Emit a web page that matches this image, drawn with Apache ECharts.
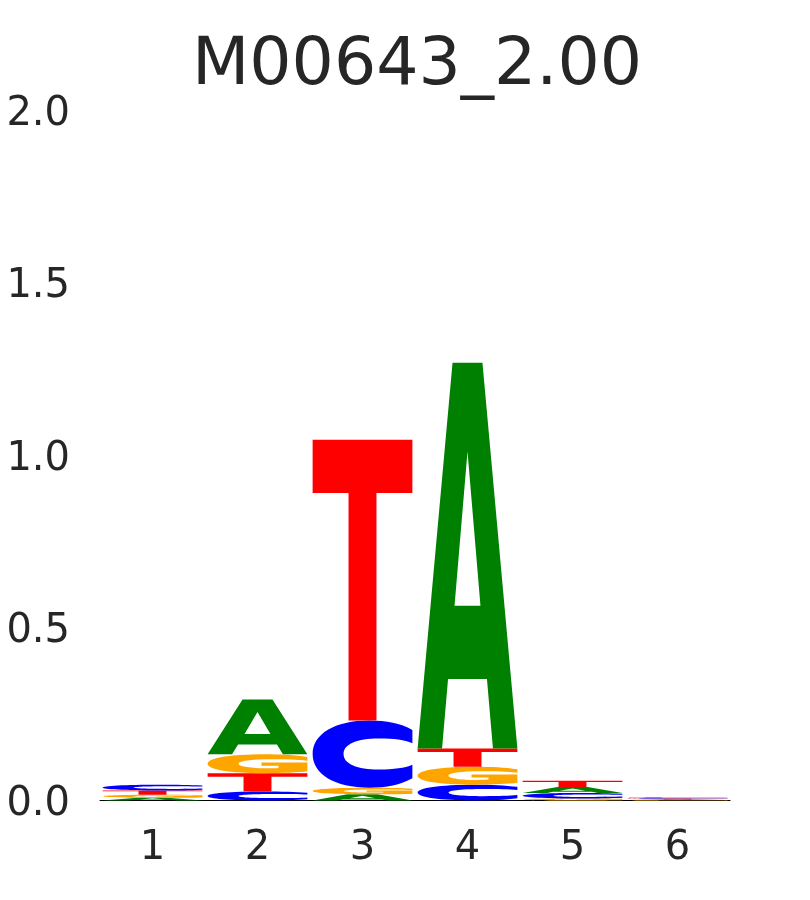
<!DOCTYPE html>
<html>
<head>
<meta charset="utf-8">
<script src="https://cdn.jsdelivr.net/npm/echarts@6/dist/echarts.min.js"></script>
<style>
html,body{margin:0;padding:0;background:#fff;}
#chart{width:810px;height:900px;}
</style>
</head>
<body>
<div id="chart"></div>
<script>
// ---- data ----
const titleText = 'M00643_2.00';
const positions = ['1', '2', '3', '4', '5', '6'];
const letters = ['A', 'C', 'G', 'T'];
const valuesA = [0.008, 0.159, 0.018, 1.118, 0.017, 0.0016];
const valuesC = [0.017, 0.026, 0.195, 0.046, 0.016, 0.003];
const valuesG = [0.009, 0.055, 0.019, 0.052, 0.006, 0.0015];
const valuesT = [0.012, 0.053, 0.814, 0.053, 0.018, 0.0025];
const yTicks = [0, 0.5, 1.0, 1.5, 2.0];

// ---- styling ----
const letterColors = { A: '#008000', C: '#0000ff', G: '#ffa500', T: '#ff0000' };
const glyphs = {
  A: 'M0,100 L35,0 L65,0 L100,100 L75.5,100 L69.5,82 L30.5,82 L24.5,100 Z M37,63 L63,63 L50,23 Z',
  T: 'M0,0 L100,0 L100,19 L64,19 L64,100 L36,100 L36,19 L0,19 Z',
  C: 'M100,14 C88,4 74,0 57,0 C22,0 0,20 0,50 C0,80 22,100 57,100 C74,100 88,96 100,86 L100,66 C92,71 82,73 66,73 C45,73 31,65 31,50 C31,35 45,27 66,27 C82,27 92,29 100,34 Z',
  G: 'M100,14 C88,4 74,0 57,0 C22,0 0,20 0,50 C0,80 22,100 57,100 C76,100 90,96 100,90 L100,44 L54,44 L54,60 L71,60 L71,72 C68,73 64,74 60,74 C44,74 31,65 31,50 C31,35 44,26 62,26 C78,26 90,28 100,34 Z'
};
const valueMap = { A: valuesA, C: valuesC, G: valuesG, T: valuesT };

const chart = echarts.init(document.getElementById('chart'), null, { renderer: 'canvas' });
const textColor = '#262626';
const fontFamily = '"DejaVu Sans", sans-serif';

function renderItem(params, api) {
  const i = api.value(0);
  const items = letters.map(l => ({ l, v: valueMap[l][i] }))
    .filter(d => d.v > 0)
    .sort((a, b) => a.v - b.v);
  const bandW = api.size([1, 0])[0];
  const w = bandW * 0.95;
  let cum = 0;
  const children = [];
  items.forEach(d => {
    const p0 = api.coord([i, cum]);
    const p1 = api.coord([i, cum + d.v]);
    cum += d.v;
    const h = p0[1] - p1[1];
    children.push({
      type: 'path',
      shape: {
        pathData: glyphs[d.l],
        x: p0[0] - w / 2,
        y: p1[1],
        width: w,
        height: h,
        layout: 'cover'
      },
      style: { fill: letterColors[d.l] }
    });
  });
  return { type: 'group', children };
}

const option = {
  backgroundColor: '#ffffff',
  animation: false,
  title: {
    text: titleText,
    left: 412,
    top: 28,
    textAlign: 'center',
    textStyle: { fontFamily, fontSize: 66.5, fontWeight: 'normal', color: textColor }
  },
  grid: { left: 100, right: 80, top: 110.5, bottom: 99.5, containLabel: false },
  xAxis: {
    type: 'category',
    data: positions,
    boundaryGap: true,
    axisLine: { show: true, lineStyle: { color: '#000000', width: 1 } },
    axisTick: { show: false },
    splitLine: { show: false },
    axisLabel: { fontFamily, fontSize: 40, color: textColor, margin: 48, verticalAlign: 'middle' }
  },
  yAxis: {
    type: 'value',
    min: yTicks[0],
    max: yTicks[yTicks.length - 1],
    interval: yTicks[1] - yTicks[0],
    axisLine: { show: false },
    axisTick: { show: false },
    splitLine: { show: false },
    axisLabel: {
      fontFamily, fontSize: 40, color: textColor, margin: 30,
      verticalAlign: 'top', lineHeight: 8,
      formatter: v => v.toFixed(1)
    }
  },
  series: [{
    type: 'custom',
    renderItem,
    data: positions.map((p, i) => [i]),
    encode: { x: 0 },
    clip: false
  }]
};
chart.setOption(option);
</script>
</body>
</html>
